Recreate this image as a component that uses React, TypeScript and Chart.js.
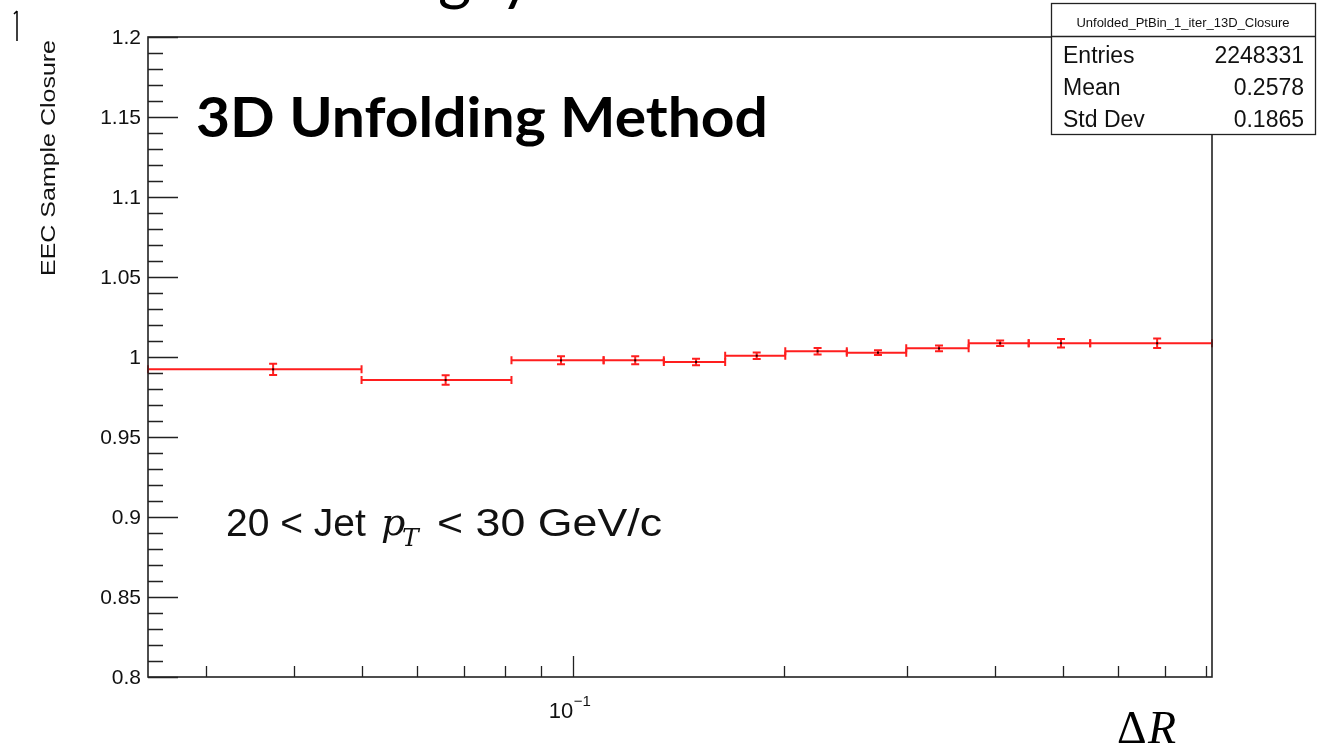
import React, { useEffect, useRef } from "react";
import { Chart, registerables } from "chart.js";

Chart.register(...registerables);

// ---------- data ----------
const binEdges = [0.0248, 0.05, 0.0818, 0.1107, 0.1349, 0.165, 0.201, 0.246, 0.299, 0.367, 0.447, 0.547, 0.816];
const closureValues = [0.9923, 0.9856, 0.9979, 0.9979, 0.9969, 1.0008, 1.0036, 1.0027, 1.0054, 1.0086, 1.0086, 1.0086];
const closureErrors = [0.0035, 0.003, 0.0025, 0.0025, 0.002, 0.002, 0.002, 0.0015, 0.0018, 0.0017, 0.0027, 0.003];

const yMajorTicks = [0.8, 0.85, 0.9, 0.95, 1.0, 1.05, 1.1, 1.15, 1.2];
const yTickLabels = ["0.8", "0.85", "0.9", "0.95", "1", "1.05", "1.1", "1.15", "1.2"];
const yMinorStep = 0.01;
const xMajorTicks = [0.1];
const xMinorTicks = [0.03, 0.04, 0.05, 0.06, 0.07, 0.08, 0.09, 0.2, 0.3, 0.4, 0.5, 0.6, 0.7, 0.8];

const yTitle = "EEC Sample Closure";
const mainTitle = "3D Unfolding Method";
const statsTitle = "Unfolded_PtBin_1_iter_13D_Closure";
const statsLabels = ["Entries", "Mean", "Std Dev"];
const statsValues = ["2248331", "0.2578", "0.1865"];

const RED = "rgb(255,30,30)";
const SANS = '"Liberation Sans", Arial, sans-serif';

function fitText(ctx: CanvasRenderingContext2D, text: string, x: number, y: number, font: string, width: number, align: "left" | "right" = "left") {
  ctx.save();
  ctx.font = font;
  const w = ctx.measureText(text).width;
  const s = width / w;
  ctx.translate(x, y);
  ctx.scale(s, 1);
  ctx.textAlign = "left";
  ctx.fillText(text, align === "right" ? -w : 0, 0);
  ctx.restore();
}

const rootPlugin = {
  id: "rootStyle",
  afterDraw(chart: any) {
    const ctx: CanvasRenderingContext2D = chart.ctx;
    const xs = chart.scales.x;
    const ys = chart.scales.y;
    const { left, right, top, bottom } = chart.chartArea;
    ctx.save();

    // histogram: horizontal bin bars with end caps, vertical error bars
    ctx.strokeStyle = RED;
    ctx.lineWidth = 2;
    for (let i = 0; i < closureValues.length; i++) {
      const x0 = xs.getPixelForValue(binEdges[i]);
      const x1 = xs.getPixelForValue(binEdges[i + 1]);
      const xc = xs.getPixelForValue((binEdges[i] + binEdges[i + 1]) / 2);
      const yv = ys.getPixelForValue(closureValues[i]);
      const yHi = ys.getPixelForValue(closureValues[i] + closureErrors[i]);
      const yLo = ys.getPixelForValue(closureValues[i] - closureErrors[i]);
      ctx.beginPath();
      ctx.moveTo(x0, yv);
      ctx.lineTo(x1, yv);
      ctx.moveTo(x0, yv - 4);
      ctx.lineTo(x0, yv + 4);
      ctx.moveTo(x1, yv - 4);
      ctx.lineTo(x1, yv + 4);
      ctx.moveTo(xc, yHi);
      ctx.lineTo(xc, yLo);
      ctx.moveTo(xc - 4, yHi);
      ctx.lineTo(xc + 4, yHi);
      ctx.moveTo(xc - 4, yLo);
      ctx.lineTo(xc + 4, yLo);
      ctx.stroke();
      ctx.fillStyle = "#200";
      ctx.fillRect(xc - 1, yv - 1, 2, 2);
    }

    // frame
    ctx.strokeStyle = "#222";
    ctx.lineWidth = 1.6;
    ctx.strokeRect(left, top, right - left, bottom - top);

    // ticks
    ctx.lineWidth = 1.3;
    ctx.beginPath();
    const nMinor = Math.round((1.2 - 0.8) / yMinorStep);
    for (let k = 0; k <= nMinor; k++) {
      const v = 0.8 + k * yMinorStep;
      const py = Math.round(ys.getPixelForValue(v)) + 0.5;
      const major = k % 5 === 0;
      ctx.moveTo(left, py);
      ctx.lineTo(left + (major ? 30 : 15), py);
    }
    for (const v of xMinorTicks) {
      const px = Math.round(xs.getPixelForValue(v)) + 0.5;
      ctx.moveTo(px, bottom);
      ctx.lineTo(px, bottom - 11);
    }
    for (const v of xMajorTicks) {
      const px = Math.round(xs.getPixelForValue(v)) + 0.5;
      ctx.moveTo(px, bottom);
      ctx.lineTo(px, bottom - 21);
    }
    ctx.stroke();

    // y tick labels
    ctx.fillStyle = "#111";
    ctx.font = `21px ${SANS}`;
    ctx.textAlign = "right";
    ctx.textBaseline = "middle";
    yMajorTicks.forEach((v, i) => {
      ctx.fillText(yTickLabels[i], left - 7, ys.getPixelForValue(v) + 1);
    });

    // x tick label 10^-1
    ctx.textBaseline = "alphabetic";
    ctx.textAlign = "left";
    for (const v of xMajorTicks) {
      const px = xs.getPixelForValue(v);
      ctx.font = `22px ${SANS}`;
      ctx.fillText("10", px - 24, 718);
      ctx.font = `15px ${SANS}`;
      ctx.fillText("\u22121", px + 1, 706);
    }

    // y title (rotated)
    ctx.save();
    ctx.translate(55, 40);
    ctx.rotate(-Math.PI / 2);
    fitText(ctx, yTitle, 0, 0, `20px ${SANS}`, 236, "right");
    ctx.restore();

    // main title
    ctx.fillStyle = "#000";
    fitText(ctx, mainTitle, 196, 137, `bold 56px Lato, "Open Sans", sans-serif`, 572);

    // cut-off slide title fragments at top
    ctx.font = `64px Lato, sans-serif`;
    ctx.fillText("g", 438, -2);
    ctx.fillText("y", 500, -2);
    ctx.lineWidth = 1.5;
    ctx.strokeStyle = "#000";
    ctx.beginPath();
    ctx.moveTo(17, 11);
    ctx.lineTo(17, 41);
    ctx.moveTo(17, 11);
    ctx.lineTo(14, 14);
    ctx.stroke();

    // pT range text
    ctx.fillStyle = "#111";
    ctx.font = `39px ${SANS}`;
    ctx.fillText("20 < Jet", 226, 536);
    ctx.font = `italic 38px "DejaVu Serif", "Liberation Serif", serif`;
    ctx.fillText("p", 381, 535);
    ctx.font = `italic 25px "DejaVu Serif", "Liberation Serif", serif`;
    ctx.fillText("T", 402, 546);
    fitText(ctx, "< 30 GeV/c", 437, 536, `39px ${SANS}`, 225);

    // Delta R
    ctx.fillStyle = "#000";
    ctx.font = `46px "Liberation Serif", serif`;
    ctx.fillText("\u0394", 1117, 743);
    ctx.font = `italic 46px "Liberation Serif", serif`;
    ctx.fillText("R", 1148, 743);

    // stats box
    const bx = 1051, by = 3, bw = 264, bh = 131;
    ctx.fillStyle = "#fff";
    ctx.fillRect(bx, by, bw, bh);
    ctx.strokeStyle = "#222";
    ctx.lineWidth = 1.3;
    ctx.strokeRect(bx + 0.5, by + 0.5, bw, bh);
    ctx.beginPath();
    ctx.moveTo(bx, 36.5);
    ctx.lineTo(bx + bw, 36.5);
    ctx.stroke();
    ctx.fillStyle = "#111";
    ctx.font = `13px ${SANS}`;
    ctx.textAlign = "center";
    ctx.fillText(statsTitle, bx + bw / 2, 27);
    ctx.font = `23px ${SANS}`;
    statsLabels.forEach((lab, i) => {
      const yy = 63 + i * 32;
      ctx.textAlign = "left";
      ctx.fillText(lab, 1063, yy);
      ctx.textAlign = "right";
      ctx.fillText(statsValues[i], 1304, yy);
    });

    ctx.restore();
  },
};

export default function App() {
  const ref = useRef<HTMLCanvasElement>(null);
  useEffect(() => {
    const canvas = ref.current!;
    const points = closureValues.map((v, i) => ({ x: (binEdges[i] + binEdges[i + 1]) / 2, y: v }));
    const chart = new Chart(canvas, {
      type: "scatter",
      data: {
        datasets: [
          {
            label: "closure",
            data: points,
            pointRadius: 0,
            showLine: false,
            borderColor: RED,
            backgroundColor: RED,
          },
        ],
      },
      options: {
        animation: false,
        responsive: false,
        devicePixelRatio: 1,
        layout: { padding: { left: 148, top: 37, right: 107, bottom: 67 } },
        plugins: { legend: { display: false }, tooltip: { enabled: false } },
        scales: {
          x: { type: "logarithmic", min: binEdges[0], max: binEdges[binEdges.length - 1], display: false },
          y: { type: "linear", min: 0.8, max: 1.2, display: false },
        },
      },
      plugins: [rootPlugin],
    });
    return () => chart.destroy();
  }, []);
  return (
    <div style={{ position: "absolute", left: 0, top: 0, width: 1319, height: 744, background: "#fff" }}>
      <canvas ref={ref} width={1319} height={744} style={{ display: "block" }} />
    </div>
  );
}
